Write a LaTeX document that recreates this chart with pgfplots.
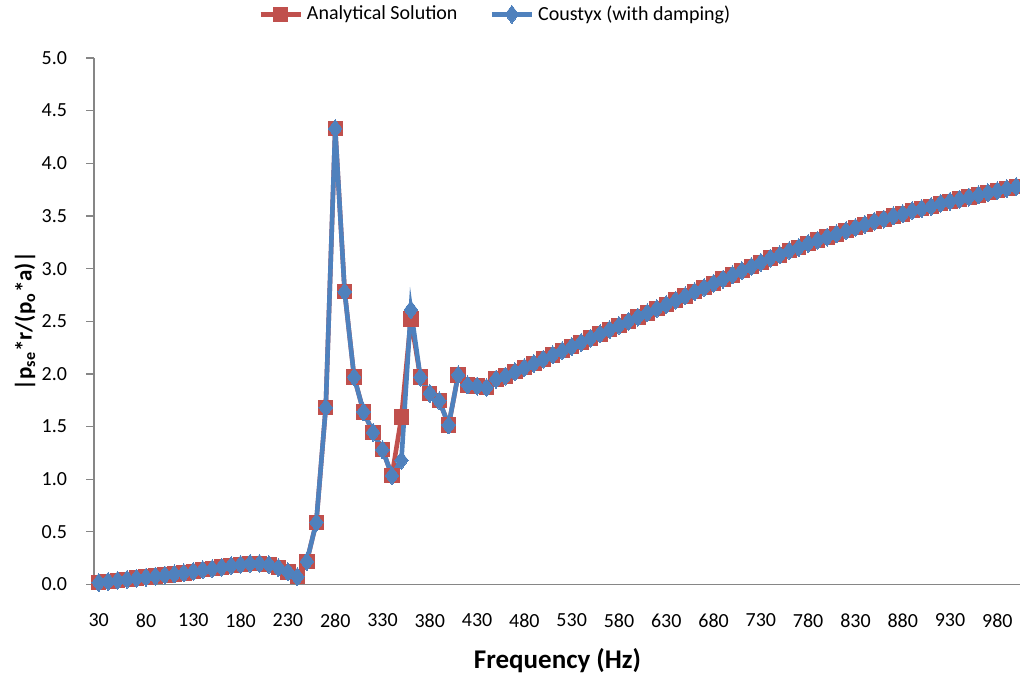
\documentclass[border=0pt]{standalone}
\usepackage{pgfplots}
\pgfplotsset{compat=1.18}
\usepackage{pgfplotstable}
\usepackage{fontspec}
\setmainfont{Carlito}

\definecolor{exred}{RGB}{192,80,77}
\definecolor{exblue}{RGB}{79,129,189}
\definecolor{axgray}{RGB}{134,134,134}

% frequency, analytical solution, Coustyx (with damping)
\pgfplotstableread{
f    ana    cou
30   0.020  0.020
40   0.030  0.030
50   0.040  0.040
60   0.050  0.050
70   0.060  0.060
80   0.070  0.070
90   0.080  0.080
100  0.090  0.090
110  0.100  0.100
120  0.110  0.110
130  0.125  0.125
140  0.140  0.140
150  0.150  0.150
160  0.165  0.165
170  0.180  0.180
180  0.190  0.190
190  0.200  0.200
200  0.200  0.200
210  0.190  0.190
220  0.160  0.160
230  0.120  0.120
240  0.075  0.075
250  0.220  0.220
260  0.590  0.590
270  1.680  1.680
280  4.330  4.330
290  2.780  2.780
300  1.970  1.970
310  1.640  1.640
320  1.445  1.445
330  1.280  1.280
340  1.035  1.035
350  1.590  1.180
360  2.520  2.610
370  1.970  1.970
380  1.815  1.815
390  1.745  1.745
400  1.515  1.515
410  1.990  1.990
420  1.895  1.895
430  1.885  1.885
440  1.870  1.870
450  1.950  1.950
460  1.980  1.980
470  2.020  2.020
480  2.060  2.060
490  2.100  2.100
500  2.140  2.140
510  2.180  2.180
520  2.220  2.220
530  2.260  2.260
540  2.300  2.300
550  2.340  2.340
560  2.380  2.380
570  2.420  2.420
580  2.460  2.460
590  2.500  2.500
600  2.540  2.540
610  2.580  2.580
620  2.620  2.620
630  2.660  2.660
640  2.700  2.700
650  2.740  2.740
660  2.780  2.780
670  2.820  2.820
680  2.860  2.860
690  2.900  2.900
700  2.940  2.940
710  2.980  2.980
720  3.020  3.020
730  3.060  3.060
740  3.100  3.100
750  3.130  3.130
760  3.170  3.170
770  3.200  3.200
780  3.240  3.240
790  3.270  3.270
800  3.300  3.300
810  3.330  3.330
820  3.360  3.360
830  3.390  3.390
840  3.420  3.420
850  3.450  3.450
860  3.470  3.470
870  3.500  3.500
880  3.520  3.520
890  3.550  3.550
900  3.570  3.570
910  3.590  3.590
920  3.620  3.620
930  3.640  3.640
940  3.660  3.660
950  3.680  3.680
960  3.700  3.700
970  3.720  3.720
980  3.740  3.740
990  3.760  3.760
1000 3.780  3.780
}\data

\begin{document}
\begin{tikzpicture}
\useasboundingbox (-47pt,-47.75pt) rectangle (463pt,292.25pt);
\begin{axis}[
    scale only axis,
    width=463.5pt, height=263.25pt,
    xmin=25, xmax=1005,
    ymin=0, ymax=5,
    clip=false,
    axis lines*=left,
    axis line style={axgray, line width=0.6pt},
    xtick={30,80,...,980},
    major x tick style={draw=none},
    extra x ticks={25,75,...,975},
    extra x tick labels={},
    extra x tick style={major tick length=4pt, tick style={axgray, line width=0.6pt}},
    ytick={0,0.5,...,5},
    y tick style={axgray, line width=0.6pt},
    major tick length=4pt,
    tick align=outside,
    tick pos=left,
    yticklabel style={xshift=-6pt, /pgf/number format/fixed, /pgf/number format/fixed zerofill, /pgf/number format/precision=1},
    xticklabel style={yshift=-7pt, /pgf/number format/1000 sep={}},
    /pgf/number format/assume math mode=true,
    tick label style={font=\fontsize{10}{12}\selectfont, text=black},
    xlabel={Frequency (Hz)},
    ylabel={|p\textsubscript{se}*r/(p\textsubscript{o}*a)|},
    every axis x label/.style={at={(axis description cs:0.5,-0.145)}, anchor=center,
        font=\fontsize{13.5}{15}\selectfont\bfseries},
    every axis y label/.style={at={(axis description cs:-0.0745,0.5)}, anchor=center, rotate=90,
        font=\fontsize{11.5}{13}\selectfont\bfseries},
    legend columns=2,
    legend style={draw=none, fill=none, font=\fontsize{10}{12}\selectfont,
        at={(axis description cs:0.434,1.083)}, anchor=center,
        /tikz/every even column/.append style={column sep=14pt}},
    legend image code/.code={\draw[mark repeat=2, mark phase=2, #1]
        plot coordinates {(0pt,0pt) (10pt,0pt) (20pt,0pt)};},
]
\addplot[exred, line width=2.3pt, mark=square*, mark size=3.6pt,
    mark options={fill=exred, draw=exred, line width=0pt}] table[x=f, y=ana] {\data};
\addlegendentry{Analytical Solution}
\addplot[exblue, line width=2.3pt, mark=diamond*, mark size=4.5pt,
    mark options={fill=exblue, draw=exblue, line width=0pt}] table[x=f, y=cou] {\data};
\addlegendentry{Coustyx (with damping)}
\end{axis}
\end{tikzpicture}
\end{document}
